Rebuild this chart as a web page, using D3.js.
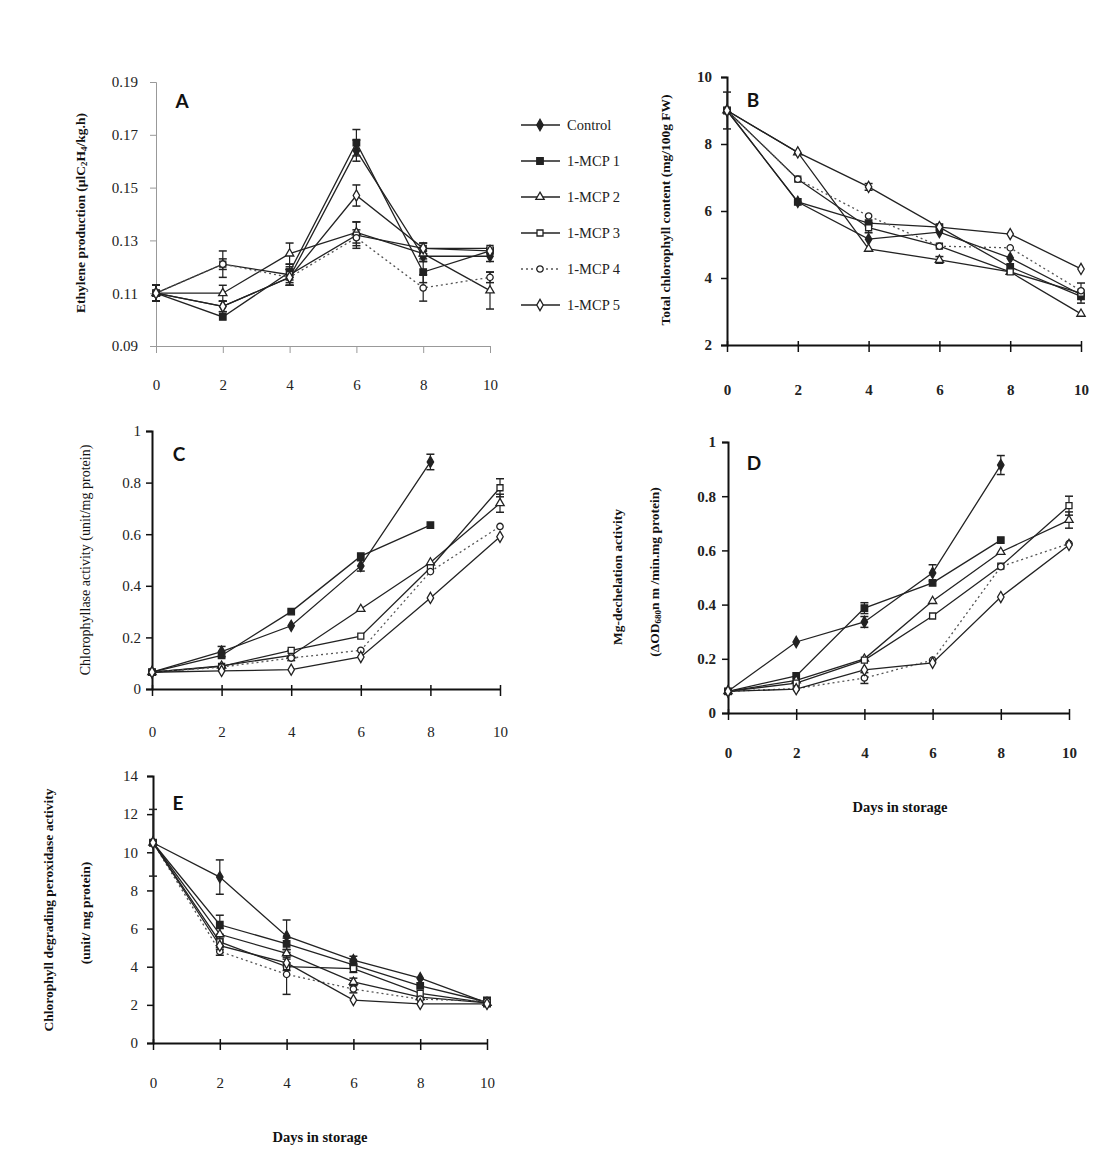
<!DOCTYPE html>
<html><head><meta charset="utf-8">
<script src="https://cdn.jsdelivr.net/npm/d3@7"></script>
<style>
html,body{margin:0;padding:0;background:#fff;}
</style>
</head><body>
<svg id="c" width="1120" height="1170" font-family="Liberation Serif, Times New Roman, serif"></svg>
<script>
const days = [0, 2, 4, 6, 8, 10];
const seriesNames = ["Control", "1-MCP 1", "1-MCP 2", "1-MCP 3", "1-MCP 4", "1-MCP 5"];
const seriesSymbols = ["diamondFilled", "squareFilled", "triangleOpen", "squareOpen", "circleOpen", "diamondOpen"];

// Panel A: Ethylene production
const ethylene = [
  [0.110, 0.105, 0.116, 0.164, 0.124, 0.124],
  [0.110, 0.101, 0.118, 0.167, 0.118, 0.126],
  [0.110, 0.110, 0.125, 0.133, 0.125, 0.111],
  [0.110, 0.121, 0.117, 0.132, 0.127, 0.127],
  [0.110, 0.121, 0.116, 0.131, 0.112, 0.116],
  [0.110, 0.105, 0.116, 0.147, 0.127, 0.126]
];
const ethyleneErr = [
  [0.003, 0.002, 0.003, 0.004, 0.002, 0.002],
  [0.003, 0.001, 0.003, 0.005, 0.004, 0.001],
  [0.003, 0.003, 0.004, 0.004, 0.002, 0.007],
  [0.003, 0.005, 0.003, 0.005, 0.002, 0.001],
  [0.003, 0.002, 0.003, 0.003, 0.005, 0.002],
  [0.003, 0.002, 0.003, 0.004, 0.002, 0.001]
];
const ethyleneTicks = [0.09, 0.11, 0.13, 0.15, 0.17, 0.19];

// Panel B: Total chlorophyll content
const chlorophyll = [
  [9.0, 6.27, 5.16, 5.37, 4.60, 3.50],
  [9.0, 6.27, 5.64, 5.52, 4.33, 3.45],
  [9.0, 7.75, 4.87, 4.54, 4.18, 2.93],
  [9.0, 6.95, 5.50, 4.95, 4.18, 3.55],
  [9.0, 6.95, 5.85, 4.95, 4.90, 3.62],
  [9.0, 7.75, 6.72, 5.52, 5.31, 4.27]
];
const chlorophyllErr = [
  [0.55, 0.05, 0.05, 0.05, 0.05, 0.05],
  [0.05, 0.05, 0.05, 0.05, 0.05, 0.05],
  [0.05, 0.08, 0.05, 0.1, 0.05, 0.05],
  [0.05, 0.05, 0.15, 0.05, 0.05, 0.3],
  [0.05, 0.05, 0.05, 0.05, 0.05, 0.05],
  [0.05, 0.08, 0.1, 0.05, 0.05, 0.05]
];
const chlorophyllTicks = [2, 4, 6, 8, 10];

// Panel C: Chlorophyllase activity
const chlorophyllase = [
  [0.065, 0.145, 0.245, 0.477, 0.880, null],
  [0.065, 0.130, 0.300, 0.515, 0.635, null],
  [0.065, 0.090, 0.130, 0.310, 0.490, 0.720],
  [0.065, 0.088, 0.150, 0.205, 0.470, 0.780],
  [0.065, 0.085, 0.120, 0.150, 0.455, 0.630],
  [0.065, 0.070, 0.075, 0.124, 0.353, 0.590]
];
const chlorophyllaseErr = [
  [0.005, 0.02, 0.01, 0.02, 0.03, 0],
  [0.005, 0.01, 0.005, 0.005, 0.005, 0],
  [0.005, 0.005, 0.02, 0.005, 0.01, 0.035],
  [0.005, 0.005, 0.005, 0.005, 0.01, 0.035],
  [0.005, 0.005, 0.005, 0.005, 0.01, 0.005],
  [0.005, 0.005, 0.005, 0.005, 0.01, 0.005]
];
const unitTicks = [0, 0.2, 0.4, 0.6, 0.8, 1];

// Panel D: Mg-dechelation activity
const mgDechelation = [
  [0.080, 0.262, 0.336, 0.517, 0.915, null],
  [0.080, 0.137, 0.387, 0.480, 0.638, null],
  [0.080, 0.120, 0.200, 0.413, 0.594, 0.712],
  [0.080, 0.110, 0.195, 0.358, 0.542, 0.765],
  [0.080, 0.090, 0.129, 0.195, 0.540, 0.625],
  [0.080, 0.088, 0.159, 0.185, 0.428, 0.620]
];
const mgDechelationErr = [
  [0.005, 0.005, 0.02, 0.03, 0.035, 0],
  [0.005, 0.01, 0.02, 0.005, 0.01, 0],
  [0.005, 0.005, 0.005, 0.01, 0.01, 0.03],
  [0.005, 0.005, 0.005, 0.005, 0.005, 0.035],
  [0.005, 0.005, 0.02, 0.01, 0.005, 0.005],
  [0.005, 0.005, 0.005, 0.005, 0.005, 0.005]
];

// Panel E: Chlorophyll degrading peroxidase activity
const peroxidase = [
  [10.5, 8.7, 5.6, 4.35, 3.4, 2.1],
  [10.5, 6.2, 5.2, 4.10, 3.0, 2.15],
  [10.5, 5.7, 4.7, 3.20, 2.4, 2.1],
  [10.5, 5.3, 4.0, 3.90, 2.6, 2.1],
  [10.5, 4.8, 3.6, 2.83, 2.3, 2.2],
  [10.5, 5.1, 4.2, 2.25, 2.05, 2.05]
];
const peroxidaseErr = [
  [1.75, 0.9, 0.85, 0.2, 0.15, 0.1],
  [0.1, 0.5, 0.3, 0.2, 0.15, 0.1],
  [0.1, 0.3, 0.2, 0.2, 0.15, 0.1],
  [0.1, 0.2, 0.2, 0.2, 0.15, 0.2],
  [0.1, 0.2, 1.05, 0.2, 0.15, 0.2],
  [0.1, 0.2, 0.2, 0.1, 0.1, 0.1]
];
const peroxidaseTicks = [0, 2, 4, 6, 8, 10, 12, 14];

const svg = d3.select("#c");
const lineColor = "#222";
const serif = "'Liberation Serif', 'Times New Roman', serif";

function drawSymbol(g, type, x, y, size) {
  const map = {
    diamondFilled: [d3.symbolDiamond, true, 36],
    squareFilled: [d3.symbolSquare, true, 42],
    triangleOpen: [d3.symbolTriangle, false, 30],
    squareOpen: [d3.symbolSquare, false, 36],
    circleOpen: [d3.symbolCircle, false, 32],
    diamondOpen: [d3.symbolDiamond, false, 36]
  };
  const [sym, filled, s] = map[type];
  g.append("path")
    .attr("d", d3.symbol().type(sym).size(size || s)())
    .attr("transform", `translate(${x},${y})`)
    .attr("fill", filled ? lineColor : "#fff")
    .attr("stroke", lineColor)
    .attr("stroke-width", 1.3);
}

function panel(cfg) {
  const g = svg.append("g");
  const x = d3.scaleLinear().domain([0, 10]).range([cfg.x0, cfg.x1]);
  const y = d3.scaleLinear().domain(cfg.yDomain).range([cfg.yb, cfg.yt]);
  const axisColor = cfg.light ? "#999" : "#111";
  const axisW = cfg.light ? 1 : 2;

  // y axis
  const ya = g.append("g").attr("transform", `translate(${cfg.x0},0)`)
    .call(d3.axisLeft(y).tickValues(cfg.yTicks).tickSize(6).tickPadding(cfg.yPad)
      .tickFormat(cfg.yFormat));
  ya.select(".domain").attr("stroke", axisColor).attr("stroke-width", axisW);
  ya.selectAll(".tick line").attr("stroke", axisColor).attr("stroke-width", cfg.light ? 1 : 1.5);
  ya.selectAll("text").style("font-size", "15px").attr("fill", "#222")
    .style("font-family", serif).style("font-weight", cfg.boldTicks ? "bold" : "normal");

  // x axis
  const xa = g.append("g").attr("transform", `translate(0,${cfg.yb})`)
    .call(d3.axisBottom(x).tickValues(days).tickSize(7).tickSizeOuter(0));
  xa.select(".domain").attr("stroke", axisColor).attr("stroke-width", axisW);
  xa.selectAll(".tick line").attr("stroke", axisColor).attr("stroke-width", cfg.light ? 1 : 1.5)
    .attr("y1", cfg.light ? 0 : -4);
  xa.selectAll("text").style("font-size", "15px").attr("fill", "#222")
    .attr("y", cfg.xLabOff).attr("dy", "0.35em")
    .style("font-family", serif).style("font-weight", cfg.boldTicks ? "bold" : "normal");

  const data = cfg.data, err = cfg.err;
  // lines
  data.forEach((s, i) => {
    const pts = days.map((d, j) => [d, s[j]]).filter(p => p[1] != null);
    g.append("path")
      .attr("d", d3.line().x(p => x(p[0])).y(p => y(p[1]))(pts))
      .attr("fill", "none")
      .attr("stroke", i === 4 ? "#555" : lineColor)
      .attr("stroke-width", 1.3)
      .attr("stroke-dasharray", i === 4 ? "2,3" : null);
  });
  // error bars
  data.forEach((s, i) => {
    s.forEach((v, j) => {
      if (v == null) return;
      const e = err[i][j];
      if (!e) return;
      const cx = x(days[j]);
      const yt = y(v + e), ybb = y(v - e);
      if (Math.abs(ybb - yt) < 6) return;
      g.append("line").attr("x1", cx).attr("x2", cx).attr("y1", yt).attr("y2", ybb)
        .attr("stroke", lineColor).attr("stroke-width", 1.2);
      [yt, ybb].forEach(yy => g.append("line").attr("x1", cx - 4).attr("x2", cx + 4)
        .attr("y1", yy).attr("y2", yy).attr("stroke", lineColor).attr("stroke-width", 1.5));
    });
  });
  // markers
  data.forEach((s, i) => {
    s.forEach((v, j) => {
      if (v == null) return;
      drawSymbol(g, seriesSymbols[i], x(days[j]), y(v));
    });
  });
  // panel letter
  g.append("text").attr("x", cfg.letter[1]).attr("y", cfg.letter[2])
    .style("font-family", "Lato, 'Open Sans', 'Liberation Sans', sans-serif").style("font-weight", "bold")
    .style("font-size", "19px").attr("fill", "#111").attr("dominant-baseline", "central")
    .attr("text-anchor", "middle").text(cfg.letter[0]);
  return g;
}

function yTitle(lines) {
  lines.forEach(l => {
    const t = svg.append("text")
      .attr("transform", `translate(${l.x},${l.y}) rotate(-90)`)
      .attr("text-anchor", "middle").attr("dominant-baseline", "central")
      .style("font-family", serif)
      .style("font-size", (l.size || 13.5) + "px").style("font-weight", l.bold === false ? "normal" : "bold")
      .attr("fill", "#111");
    l.parts.forEach(p => {
      const ts = t.append("tspan").text(p[0]);
      if (p[1] === "sub") ts.style("font-size", "9px").attr("dy", 4);
      if (p[1] === "up") ts.attr("dy", -4);
    });
  });
}

const fmtA = d3.format(".2f");
const fmtUnit = v => v === 0 ? "0" : (v === 1 ? "1" : d3.format(".1f")(v));

panel({ x0: 156, x1: 490, yb: 346, yt: 82, yDomain: [0.09, 0.19], yTicks: ethyleneTicks,
  yFormat: fmtA, yPad: 12, xLabOff: 39, light: true, data: ethylene, err: ethyleneErr,
  letter: ["A", 182, 100] });
panel({ x0: 727, x1: 1081, yb: 345, yt: 77, yDomain: [2, 10], yTicks: chlorophyllTicks,
  yFormat: d3.format("d"), yPad: 9, xLabOff: 45, boldTicks: true, data: chlorophyll, err: chlorophyllErr,
  letter: ["B", 753, 99] });
panel({ x0: 152, x1: 500, yb: 689, yt: 431, yDomain: [0, 1], yTicks: unitTicks,
  yFormat: fmtUnit, yPad: 5, xLabOff: 43, data: chlorophyllase, err: chlorophyllaseErr,
  letter: ["C", 179, 453] });
panel({ x0: 728, x1: 1069, yb: 713, yt: 442, yDomain: [0, 1], yTicks: unitTicks,
  yFormat: fmtUnit, yPad: 6, xLabOff: 40, boldTicks: true, data: mgDechelation, err: mgDechelationErr,
  letter: ["D", 754, 462] });
panel({ x0: 153, x1: 487, yb: 1043, yt: 776, yDomain: [0, 14], yTicks: peroxidaseTicks,
  yFormat: d3.format("d"), yPad: 9, xLabOff: 40, data: peroxidase, err: peroxidaseErr,
  letter: ["E", 178, 802] });

yTitle([
  { x: 80, y: 213, parts: [["Ethylene production (µlC"], ["2", "sub"], ["H", "up"], ["4", "sub"], ["/kg.h)", "up"]] },
  { x: 665, y: 210, parts: [["Total chlorophyll content (mg/100g FW)"]] },
  { x: 85, y: 560, bold: false, size: 14, parts: [["Chlorophyllase activity (unit/mg  protein)"]] },
  { x: 617, y: 577, parts: [["Mg-dechelation activity"]] },
  { x: 654, y: 572, parts: [["(ΔOD"], ["680", "sub"], ["n m /min.mg protein)", "up"]] },
  { x: 48, y: 910, parts: [["Chlorophyll degrading peroxidase activity"]] },
  { x: 85, y: 913, parts: [["(unit/ mg protein)"]] }
]);

[[900, 807], [320, 1137]].forEach(p => {
  svg.append("text").attr("x", p[0]).attr("y", p[1]).attr("text-anchor", "middle")
    .attr("dominant-baseline", "central").style("font-family", serif)
    .style("font-size", "14.5px").style("font-weight", "bold")
    .attr("fill", "#111").text("Days in storage");
});

// legend
const legend = svg.append("g");
seriesNames.forEach((name, i) => {
  const yy = 125 + i * 36;
  legend.append("line").attr("x1", 521).attr("x2", 560).attr("y1", yy).attr("y2", yy)
    .attr("stroke", i === 4 ? "#555" : lineColor).attr("stroke-width", 1.3)
    .attr("stroke-dasharray", i === 4 ? "2,3" : null);
  drawSymbol(legend, seriesSymbols[i], 540, yy);
  legend.append("text").attr("x", 567).attr("y", yy).attr("dominant-baseline", "central")
    .style("font-family", serif).style("font-size", "14.5px").attr("fill", "#222").text(name);
});
</script>
</body></html>
